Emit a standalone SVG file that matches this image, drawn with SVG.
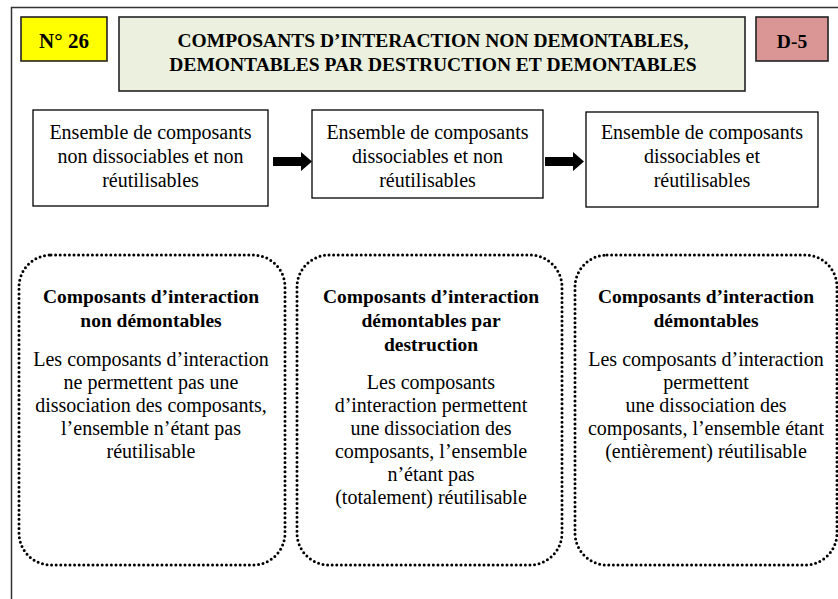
<svg xmlns="http://www.w3.org/2000/svg" width="838" height="599" viewBox="0 0 838 599">
<defs>
<style>
text{font-family:"Liberation Serif","Times New Roman",serif;fill:#000;text-anchor:middle}
.b{font-weight:bold}
.t{font-size:19.5px}
.n{font-size:20px}
.hd{stroke:#222;stroke-width:1.6}
.bx{fill:#fff;stroke:#000;stroke-width:1.3}
.dot{fill:none;stroke:#000;stroke-width:3;stroke-dasharray:0 4.6;stroke-linecap:round}
</style>
</defs>
<rect x="0" y="0" width="838" height="599" fill="#fff"/>
<rect id="frame" x="11.5" y="7.5" width="840" height="600" fill="none" stroke="#333" stroke-width="1.5"/>
<g id="num">
<rect x="21" y="17" width="86" height="44" fill="#ffff00" class="hd"/>
<text x="64" y="48" class="b" font-size="21">N° 26</text>
</g>
<g id="title">
<rect x="119" y="17" width="626" height="74" fill="#ebf1de" class="hd"/>
<text x="433" y="47" class="b t">COMPOSANTS D’INTERACTION NON DEMONTABLES,</text>
<text x="433" y="71" class="b t">DEMONTABLES PAR DESTRUCTION ET DEMONTABLES</text>
</g>
<g id="code">
<rect x="756" y="17" width="72" height="44" fill="#d99694" class="hd"/>
<text x="792" y="48" class="b t">D-5</text>
</g>
<g id="ens1">
<rect x="33" y="110" width="235" height="96" class="bx"/>
<text x="150.5" y="139" class="n">Ensemble de composants</text>
<text x="150.5" y="163" class="n">non dissociables et non</text>
<text x="150.5" y="187" class="n">réutilisables</text>
</g>
<g id="ens2">
<rect x="312" y="110" width="231" height="88" class="bx"/>
<text x="427.5" y="139" class="n">Ensemble de composants</text>
<text x="427.5" y="163" class="n">dissociables et non</text>
<text x="427.5" y="187" class="n">réutilisables</text>
</g>
<g id="ens3">
<rect x="586" y="112" width="232" height="95" class="bx"/>
<text x="702" y="139" class="n">Ensemble de composants</text>
<text x="702" y="163" class="n">dissociables et</text>
<text x="702" y="187" class="n">réutilisables</text>
</g>
<g id="connectors">
<path d="M273 157 H301 V152 L312 161.5 L301 171 V166 H273 Z" fill="#000"/>
<path d="M545 157 H573 V152 L584 161.5 L573 171 V166 H545 Z" fill="#000"/>
</g>
<g id="cat1">
<rect x="19" y="255" width="266" height="310" rx="32" class="dot"/>
<text x="151" y="303" class="b t">Composants d’interaction</text>
<text x="151" y="327" class="b t">non démontables</text>
<text x="151" y="366" class="n">Les composants d’interaction</text>
<text x="151" y="389" class="n">ne permettent pas une</text>
<text x="151" y="412" class="n">dissociation des composants,</text>
<text x="151" y="435" class="n">l’ensemble n’étant pas</text>
<text x="151" y="458" class="n">réutilisable</text>
</g>
<g id="cat2">
<rect x="297" y="255" width="265" height="310" rx="32" class="dot"/>
<text x="431" y="303" class="b t">Composants d’interaction</text>
<text x="431" y="327" class="b t">démontables par</text>
<text x="431" y="351" class="b t">destruction</text>
<text x="431" y="389" class="n">Les composants</text>
<text x="431" y="412" class="n">d’interaction permettent</text>
<text x="431" y="435" class="n">une dissociation des</text>
<text x="431" y="458" class="n">composants, l’ensemble</text>
<text x="431" y="481" class="n">n’étant pas</text>
<text x="431" y="504" class="n">(totalement) réutilisable</text>
</g>
<g id="cat3">
<rect x="575" y="255" width="262" height="310" rx="32" class="dot"/>
<text x="706" y="303" class="b t">Composants d’interaction</text>
<text x="706" y="327" class="b t">démontables</text>
<text x="706" y="366" class="n">Les composants d’interaction</text>
<text x="706" y="389" class="n">permettent</text>
<text x="706" y="412" class="n">une dissociation des</text>
<text x="706" y="435" class="n">composants, l’ensemble étant</text>
<text x="706" y="458" class="n">(entièrement) réutilisable</text>
</g>
</svg>
